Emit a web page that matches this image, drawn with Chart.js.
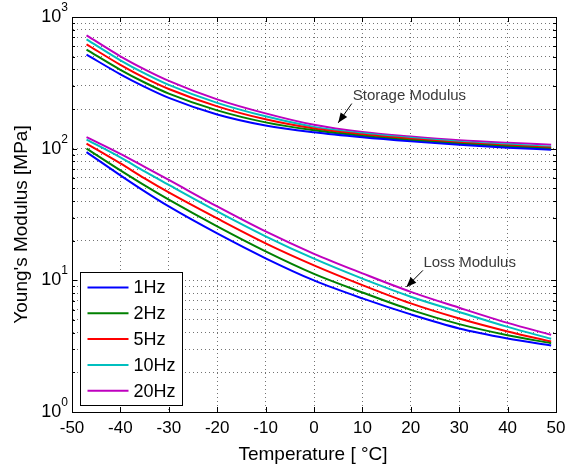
<!DOCTYPE html>
<html><head><meta charset="utf-8">
<script src="https://cdn.jsdelivr.net/npm/chart.js@4.4.0/dist/chart.umd.min.js"></script>
<style>html,body{margin:0;padding:0;background:#fff;}#wrap{width:568px;height:474px;}</style>
</head><body><div id="wrap"><canvas id="c" width="568" height="474"></canvas></div>
<script>
// ---- data ----
const temps = [-47, -40, -35, -30, -20, -10, 0, 10, 20, 30, 40, 49];
const seriesLabels = ['1Hz', '2Hz', '5Hz', '10Hz', '20Hz'];
const seriesColors = ['#0000ff', '#008000', '#ff0000', '#00bfbf', '#bf00bf'];
const storage1Hz  = [518, 367, 295, 243, 182, 150, 133, 121.9, 113.6, 106.9, 101.8, 98.3];
const storage2Hz  = [565, 397, 318, 262, 195.4, 158.4, 137.8, 124.9, 116.0, 108.9, 103.8, 100];
const storage5Hz  = [620, 433, 345, 284, 209.6, 167, 142.1, 128, 118.5, 111.1, 105.8, 101.8];
const storage10Hz = [677, 469, 373, 305, 222.8, 176, 146.4, 130.7, 120.8, 113.0, 107.8, 103.6];
const storage20Hz = [726, 503, 400.6, 327.5, 237, 185.4, 151.7, 133.7, 123.6, 115.8, 110.7, 107.2];
const loss1Hz  = [94.2, 62.7, 47.4, 36.4, 22.7, 14.7, 9.98, 7.29, 5.51, 4.31, 3.62, 3.20];
const loss2Hz  = [100.2, 68.4, 52.6, 41.0, 25.7, 16.6, 11.2, 8.09, 5.97, 4.65, 3.83, 3.33];
const loss5Hz  = [109.3, 77.3, 59.5, 46.5, 29.5, 19.1, 13.0, 9.2, 6.68, 5.13, 4.09, 3.43];
const loss10Hz = [117.3, 85.9, 67.2, 53.1, 33.4, 21.6, 14.6, 10.3, 7.51, 5.75, 4.43, 3.60];
const loss20Hz = [122.5, 91.3, 72.7, 57.9, 36.4, 23.5, 15.9, 11.3, 8.17, 6.19, 4.75, 3.86];
const xTicks = [-50, -40, -30, -20, -10, 0, 10, 20, 30, 40, 50];
const yDecades = [1, 10, 100, 1000];
const yExponents = ['0', '1', '2', '3'];
const xTitle = 'Temperature [ °C]';
const yTitle = "Young's Modulus [MPa]";
const notes = [
  {text: 'Storage Modulus', tx: 8.0, ty: 254, fromX: 7.8, fromY: 220, toX: 5.0, toY: 157},
  {text: 'Loss Modulus', tx: 22.6, ty: 13.5, fromX: 22.5, fromY: 11.9, toX: 19.1, toY: 8.9}
];

const storageSets = [storage1Hz, storage2Hz, storage5Hz, storage10Hz, storage20Hz];
const lossSets = [loss1Hz, loss2Hz, loss5Hz, loss10Hz, loss20Hz];
const toPts = arr => arr.map((v, i) => ({x: temps[i], y: v}));
const datasets = [];
storageSets.forEach((s, i) => datasets.push({label: seriesLabels[i], data: toPts(s), borderColor: seriesColors[i]}));
lossSets.forEach((s, i) => datasets.push({label: seriesLabels[i] + ' loss', data: toPts(s), borderColor: seriesColors[i]}));
datasets.forEach(d => { d.borderWidth = 2; d.pointRadius = 0; d.fill = false; d.cubicInterpolationMode = 'monotone'; });

const minorTicks = [];
yDecades.forEach((d, k) => { if (k < yDecades.length - 1) { for (let m = 1; m <= 9; m++) minorTicks.push(d * m); } else minorTicks.push(d); });

const FONT = '"Liberation Sans", Arial, sans-serif';
const gridCol = 'rgba(0,0,0,0.55)';

const overlay = {
  id: 'overlay',
  afterDatasetsDraw(chart) {
    const ctx = chart.ctx, a = chart.chartArea, xs = chart.scales.x, ys = chart.scales.y;
    ctx.save();
    // box
    ctx.strokeStyle = '#000'; ctx.lineWidth = 1;
    ctx.strokeRect(Math.round(a.left) + 0.5, Math.round(a.top) + 0.5, Math.round(a.right) - Math.round(a.left), Math.round(a.bottom) - Math.round(a.top));
    // inward ticks
    ctx.beginPath();
    xTicks.forEach(t => {
      const px = Math.round(xs.getPixelForValue(t)) + 0.5;
      ctx.moveTo(px, a.bottom); ctx.lineTo(px, a.bottom - 5);
      ctx.moveTo(px, a.top); ctx.lineTo(px, a.top + 5);
    });
    minorTicks.forEach(v => {
      const py = Math.round(ys.getPixelForValue(v)) + 0.5;
      const len = yDecades.includes(v) ? 5 : 3;
      ctx.moveTo(a.left, py); ctx.lineTo(a.left + len, py);
      ctx.moveTo(a.right, py); ctx.lineTo(a.right - len, py);
    });
    ctx.stroke();
    // x tick labels
    ctx.fillStyle = '#000';
    ctx.font = '17px ' + FONT;
    ctx.textAlign = 'center'; ctx.textBaseline = 'top';
    xTicks.forEach(t => ctx.fillText(String(t), xs.getPixelForValue(t), a.bottom + 8));
    // y tick labels 10^k
    yDecades.forEach((d, k) => {
      const py = ys.getPixelForValue(d);
      ctx.font = '12px ' + FONT;
      ctx.textAlign = 'left'; ctx.textBaseline = 'alphabetic';
      const ew = ctx.measureText(yExponents[k]).width;
      const ex = a.left - 4 - ew;
      ctx.fillText(yExponents[k], ex, py - 6);
      ctx.font = '18px ' + FONT;
      ctx.textAlign = 'right'; ctx.textBaseline = 'middle';
      ctx.fillText('10', ex, py);
    });
    // axis titles
    ctx.font = '19px ' + FONT;
    ctx.textAlign = 'center'; ctx.textBaseline = 'middle';
    ctx.fillText(xTitle, (a.left + a.right) / 2 - 1, 455);
    ctx.save();
    ctx.translate(22, (a.top + a.bottom) / 2 + 10);
    ctx.rotate(-Math.PI / 2);
    ctx.fillText(yTitle, 0, 0);
    ctx.restore();
    // annotations
    notes.forEach(n => {
      ctx.fillStyle = '#3a3a3a';
      ctx.font = '15px ' + FONT;
      ctx.textAlign = 'left'; ctx.textBaseline = 'middle';
      ctx.fillText(n.text, xs.getPixelForValue(n.tx), ys.getPixelForValue(n.ty));
      const x1 = xs.getPixelForValue(n.fromX), y1 = ys.getPixelForValue(n.fromY);
      const x2 = xs.getPixelForValue(n.toX), y2 = ys.getPixelForValue(n.toY);
      ctx.strokeStyle = '#000'; ctx.fillStyle = '#000'; ctx.lineWidth = 1;
      ctx.beginPath(); ctx.moveTo(x1, y1); ctx.lineTo(x2, y2); ctx.stroke();
      const ang = Math.atan2(y2 - y1, x2 - x1), L = 10, W = 4;
      const bx = x2 - L * Math.cos(ang), by = y2 - L * Math.sin(ang);
      ctx.beginPath();
      ctx.moveTo(x2, y2);
      ctx.lineTo(bx + W * Math.sin(ang), by - W * Math.cos(ang));
      ctx.lineTo(bx - W * Math.sin(ang), by + W * Math.cos(ang));
      ctx.closePath(); ctx.fill();
    });
    // legend
    const lx = Math.round(a.left) + 8.5, lw = 102, lh = 133, ly = Math.round(a.bottom) - 6.5 - lh;
    ctx.fillStyle = '#fff';
    ctx.fillRect(lx, ly, lw, lh);
    ctx.strokeStyle = '#000'; ctx.lineWidth = 1;
    ctx.strokeRect(lx, ly, lw, lh);
    seriesLabels.forEach((lab, i) => {
      const ry = ly + 15 + i * 25.8;
      ctx.strokeStyle = seriesColors[i]; ctx.lineWidth = 2;
      ctx.beginPath(); ctx.moveTo(lx + 7, ry); ctx.lineTo(lx + 48, ry); ctx.stroke();
      ctx.fillStyle = '#000'; ctx.font = '18px ' + FONT;
      ctx.textAlign = 'left'; ctx.textBaseline = 'middle';
      ctx.fillText(lab, lx + 53, ry + 1);
    });
    ctx.restore();
  }
};

new Chart(document.getElementById('c'), {
  type: 'line',
  data: {datasets},
  plugins: [overlay],
  options: {
    responsive: false, animation: false, devicePixelRatio: 1,
    layout: {padding: {left: 0, top: 17, right: 12, bottom: 0}},
    plugins: {legend: {display: false}, tooltip: {enabled: false}},
    scales: {
      x: {
        type: 'linear', min: -50, max: 50,
        afterBuildTicks: s => { s.ticks = xTicks.map(v => ({value: v})); },
        afterFit: s => { s.height = 62; },
        ticks: {display: false},
        grid: {color: gridCol, lineWidth: 1, drawTicks: false},
        border: {display: true, color: '#000', dash: [1, 3]}
      },
      y: {
        type: 'logarithmic', min: 1, max: 1000,
        afterBuildTicks: s => { s.ticks = minorTicks.map(v => ({value: v, major: yDecades.includes(v)})); },
        afterFit: s => { s.width = 72; },
        ticks: {display: false},
        grid: {color: gridCol, lineWidth: 1, drawTicks: false},
        border: {display: true, color: '#000', dash: [1, 3]}
      }
    }
  }
});
</script></body></html>
